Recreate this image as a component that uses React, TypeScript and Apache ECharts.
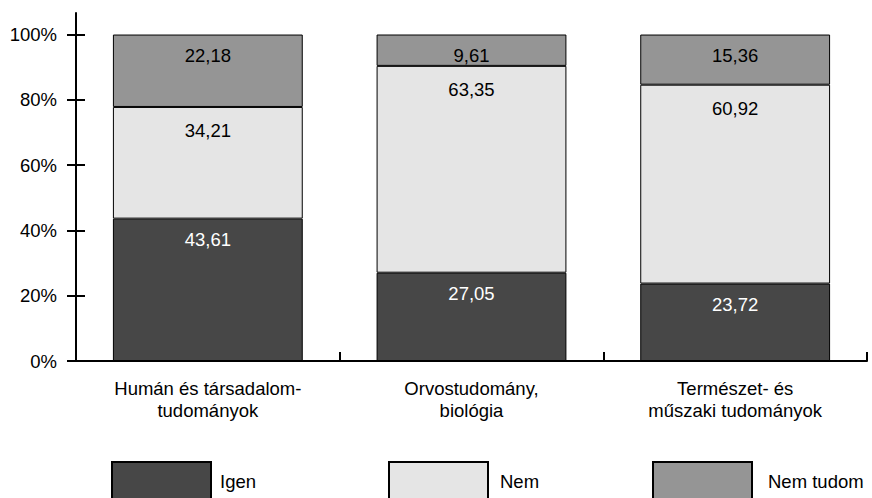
import React, { useEffect, useRef } from "react";
import * as echarts from "echarts";

const categories = [
  "Humán és társadalom-\ntudományok",
  "Orvostudomány,\nbiológia",
  "Természet- és\nműszaki tudományok",
];
const igen = [43.61, 27.05, 23.72];
const nem = [34.21, 63.35, 60.92];
const nemTudom = [22.18, 9.61, 15.36];
const yTicks = [0, 20, 40, 60, 80, 100];

const FONT = "'Liberation Sans', Arial, Helvetica, sans-serif";
const FS = 18.5;

const fmt = (v: number) => v.toFixed(2).replace(".", ",");

export default function App() {
  const ref = useRef<HTMLDivElement>(null);
  useEffect(() => {
    document.body.style.margin = "0";
    const chart = echarts.init(ref.current!, null, { renderer: "svg" });
    const barLabel = (color: string, distance: number) => ({
      show: true,
      position: "insideTop",
      distance,
      color,
      fontSize: FS,
      fontFamily: FONT,
      formatter: (p: any) => fmt(p.value),
    });
    const mkSeries = (name: string, data: number[], color: string, labelColor: string, dist: number) => ({
      name,
      type: "bar",
      stack: "total",
      data,
      barWidth: "72%",
      itemStyle: { color, borderColor: "#000", borderWidth: 1 },
      label: barLabel(labelColor, dist),
      emphasis: { disabled: true },
    });
    const legendBase = {
      orient: "horizontal",
      top: 461,
      padding: 0,
      itemWidth: 99,
      itemHeight: 38,
      icon: "rect",
      selectedMode: false,
    };
    chart.setOption({
      animation: false,
      textStyle: { fontFamily: FONT },
      grid: { left: 76, right: 5, top: 13, bottom: 137, containLabel: false },
      legend: [
        { ...legendBase, data: ["Igen"], left: 111, textStyle: { fontSize: FS, fontFamily: FONT, color: "#000", padding: [0, 0, 0, 4] } },
        { ...legendBase, data: ["Nem"], left: 388, textStyle: { fontSize: FS, fontFamily: FONT, color: "#000", padding: [0, 0, 0, 7] } },
        { ...legendBase, data: ["Nem tudom"], left: 652, textStyle: { fontSize: FS, fontFamily: FONT, color: "#000", padding: [0, 0, 0, 11] } },
      ],
      xAxis: {
        type: "category",
        data: categories,
        boundaryGap: true,
        axisLine: { show: true, lineStyle: { color: "#000", width: 2 } },
        axisTick: { show: true, inside: true, length: 9, interval: 0, lineStyle: { color: "#000", width: 2 } },
        axisLabel: {
          interval: 0,
          margin: 16,
          fontSize: FS,
          lineHeight: 22.5,
          color: "#000",
          fontFamily: FONT,
          align: "center",
        },
        splitLine: { show: false },
      },
      yAxis: [
        {
          type: "value",
          min: 0,
          max: 106.6,
          position: "left",
          axisLine: { show: true, lineStyle: { color: "#000", width: 2 } },
          axisTick: { show: true, inside: false, length: 9, customValues: yTicks, lineStyle: { color: "#000", width: 2 } },
          axisLabel: {
            customValues: yTicks,
            margin: 19,
            fontSize: FS,
            color: "#000",
            fontFamily: FONT,
            formatter: (v: number) => `${v}%`,
          },
          splitLine: { show: false },
        },
        {
          type: "value",
          min: 0,
          max: 106.6,
          position: "left",
          offset: 0,
          axisLine: { show: false },
          axisTick: { show: true, inside: true, length: 9, customValues: yTicks, lineStyle: { color: "#000", width: 2 } },
          axisLabel: { show: false },
          splitLine: { show: false },
        },
      ],
      series: [
        mkSeries("Igen", igen, "#474747", "#fff", 11.5),
        mkSeries("Nem", nem, "#e5e5e5", "#000", 14.5),
        mkSeries("Nem tudom", nemTudom, "#959595", "#000", 11),
      ],
    });
    return () => chart.dispose();
  }, []);
  return <div ref={ref} style={{ width: 872, height: 498 }} />;
}
